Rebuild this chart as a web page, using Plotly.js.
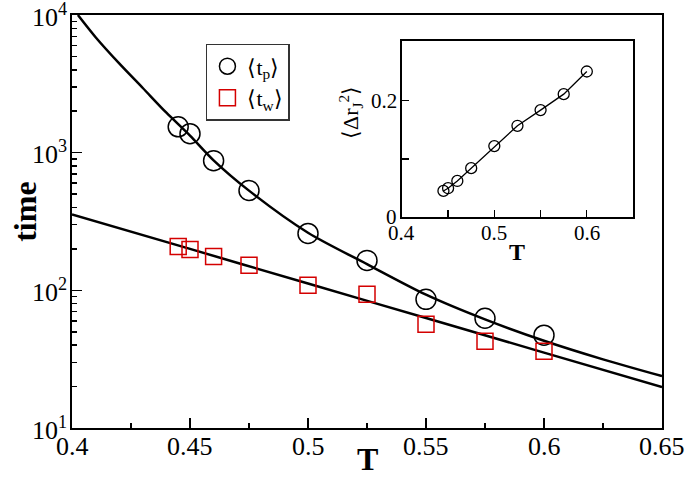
<!DOCTYPE html>
<html>
<head>
<meta charset="utf-8">
<script src="https://cdn.plot.ly/plotly-3.0.1.min.js"></script>
<style>html,body{margin:0;padding:0;background:#fff;}</style>
</head>
<body>
<div id="chart" style="width:685px;height:482px;"></div>
<script>
// Data
const T = [0.445, 0.45, 0.46, 0.475, 0.5, 0.525, 0.55, 0.575, 0.6];
const tp = [1541, 1374, 875, 531, 259, 165, 86, 62.7, 47.2];
const tw = [208, 198, 176, 152, 109, 93.5, 56.7, 42.7, 36.1];

// fitted curves as drawn in the picture (sampled along the drawn lines)
const fitT_p = [0.4025, 0.41, 0.42, 0.43, 0.44, 0.45, 0.46, 0.475, 0.5, 0.525, 0.55, 0.575, 0.6, 0.625, 0.65];
const fitV_p = [10000, 6900, 4450, 2950, 1950, 1330, 880, 530, 262, 155, 93, 61.5, 43, 31.5, 23.8];
const fitT_w = [0.4, 0.45, 0.5, 0.55, 0.6, 0.65];
const fitV_w = [356, 200, 112, 63, 35.3, 19.8];

// inset data
const insetT = [0.445, 0.45, 0.46, 0.475, 0.5, 0.525, 0.55, 0.575, 0.6];
const insetR = [0.0448, 0.0495, 0.062, 0.084, 0.122, 0.157, 0.184, 0.2115, 0.2505];

// tick labels
const xTicks = [0.4, 0.45, 0.5, 0.55, 0.6, 0.65];
const xTickText = ['0.4', '0.45', '0.5', '0.55', '0.6', '0.65'];
const yTicks = [10, 100, 1000, 10000];
const yTickText = ['10<sup>1</sup>', '10<sup>2</sup>', '10<sup>3</sup>', '10<sup>4</sup>'];
const yMinor = [20,30,40,50,60,70,80,90,200,300,400,500,600,700,800,900,2000,3000,4000,5000,6000,7000,8000,9000];
const xMinor = [0.425, 0.475, 0.525, 0.575, 0.625];
const inXTicks = [0.4, 0.5, 0.6];
const inXText = ['0.4', '0.5', '0.6'];
const inXMinor = [0.45, 0.55];
const inYTicks = [0, 0.2];
const inYText = ['0', '0.2'];
const inYMinor = [0.1];

const serif = 'Liberation Serif';

const traces = [
  {x: fitT_p, y: fitV_p, mode: 'lines', line: {color: '#000', width: 2.5, shape: 'spline', smoothing: 0.8}, showlegend: false, hoverinfo: 'skip'},
  {x: fitT_w, y: fitV_w, mode: 'lines', line: {color: '#000', width: 2.5, shape: 'spline'}, showlegend: false, hoverinfo: 'skip'},
  {x: T, y: tp, mode: 'markers', name: '⟨t<sub>p</sub>⟩',
   marker: {symbol: 'circle-open', size: 20, color: '#000', line: {width: 1.5, color: '#000'}}},
  {x: T, y: tw, mode: 'markers', name: '⟨t<sub>w</sub>⟩',
   marker: {symbol: 'square-open', size: 16, color: '#d40000', line: {width: 1.5, color: '#d40000'}}},
  {x: insetT, y: insetR, xaxis: 'x2', yaxis: 'y2', mode: 'lines+markers', showlegend: false,
   line: {color: '#000', width: 1.3},
   marker: {symbol: 'circle-open', size: 11, color: '#000', line: {width: 1.3, color: '#000'}}}
];

const axCommon = {
  showgrid: false, zeroline: false, automargin: false, showticklabels: false,
  showline: true, linecolor: '#000', mirror: true, tickcolor: '#000', ticks: 'inside'
};

// tick labels drawn as text placed on the library's axes
const annotations = [];
xTicks.forEach((v, i) => annotations.push({xref: 'x', yref: 'y domain', x: v, y: 0, yshift: -2,
  xanchor: 'center', yanchor: 'top', text: xTickText[i], showarrow: false, font: {family: serif, size: 26, color: '#000'}}));
yTicks.forEach((v, i) => annotations.push({xref: 'x domain', yref: 'y', x: 0, y: Math.log10(v), xshift: -3,
  xanchor: 'right', yanchor: 'middle', text: yTickText[i], showarrow: false, font: {family: serif, size: 26, color: '#000'}}));
inXTicks.forEach((v, i) => annotations.push({xref: 'x2', yref: 'y2 domain', x: v, y: 0, yshift: -2,
  xanchor: 'center', yanchor: 'top', text: inXText[i], showarrow: false, font: {family: serif, size: 21, color: '#000'}}));
inYTicks.forEach((v, i) => annotations.push({xref: 'x2 domain', yref: 'y2', x: 0, y: v, xshift: -3,
  xanchor: 'right', yanchor: 'middle', text: inYText[i], showarrow: false, font: {family: serif, size: 21, color: '#000'}}));
// axis titles
annotations.push({xref: 'paper', yref: 'paper', x: 0.5, y: -0.075, xanchor: 'center', yanchor: 'middle',
  text: '<b>T</b>', showarrow: false, font: {family: serif, size: 32, color: '#000'}});
annotations.push({xref: 'paper', yref: 'paper', x: -0.08, y: 0.523, xanchor: 'center', yanchor: 'middle', textangle: -90,
  text: '<b>time</b>', showarrow: false, font: {family: serif, size: 32, color: '#000'}});
annotations.push({xref: 'x2 domain', yref: 'paper', x: 0.5, y: 0.426, xanchor: 'center', yanchor: 'middle',
  text: '<b>T</b>', showarrow: false, font: {family: serif, size: 24, color: '#000'}});
annotations.push({xref: 'paper', yref: 'paper', x: 0.471, y: 0.765, xanchor: 'center', yanchor: 'middle', textangle: -90,
  text: '⟨Δr<sub>J</sub><sup>2</sup>⟩', showarrow: false, font: {family: serif, size: 22, color: '#000'}});

const layout = {
  width: 685, height: 482,
  margin: {l: 72, r: 23, t: 15, b: 54},
  paper_bgcolor: '#fff', plot_bgcolor: '#fff',
  font: {family: serif, color: '#000', size: 22},
  showlegend: true,
  legend: {x: 0.227, y: 0.93, xanchor: 'left', yanchor: 'top',
           bordercolor: '#333', borderwidth: 1.5, bgcolor: '#fff',
           font: {family: serif, size: 22, color: '#000'}, itemwidth: 30, tracegroupgap: 6},
  annotations: annotations,
  xaxis: Object.assign({}, axCommon, {
    domain: [0, 1], range: [0.4, 0.65], linewidth: 2,
    tickmode: 'array', tickvals: xTicks, ticklen: 10, tickwidth: 1.5,
    minor: {tickvals: xMinor, ticks: 'inside', ticklen: 5, tickwidth: 1.5, tickcolor: '#000'}
  }),
  yaxis: Object.assign({}, axCommon, {
    domain: [0, 1], type: 'log', range: [1, 4], linewidth: 2,
    tickmode: 'array', tickvals: yTicks, ticklen: 10, tickwidth: 1.5,
    minor: {tickvals: yMinor, ticks: 'inside', ticklen: 5, tickwidth: 1.5, tickcolor: '#000'}
  }),
  xaxis2: Object.assign({}, axCommon, {
    domain: [0.559, 0.951], anchor: 'y2', range: [0.4, 0.65], linewidth: 1.8,
    tickmode: 'array', tickvals: inXTicks, ticklen: 7, tickwidth: 1.3,
    minor: {tickvals: inXMinor, ticks: 'inside', ticklen: 7, tickwidth: 1.3, tickcolor: '#000'}
  }),
  yaxis2: Object.assign({}, axCommon, {
    domain: [0.511, 0.937], anchor: 'x2', range: [0, 0.303], linewidth: 1.8,
    tickmode: 'array', tickvals: inYTicks, ticklen: 7, tickwidth: 1.3,
    minor: {tickvals: inYMinor, ticks: 'inside', ticklen: 7, tickwidth: 1.3, tickcolor: '#000'}
  })
};

Plotly.newPlot('chart', traces, layout, {displayModeBar: false, staticPlot: true});
</script>
</body>
</html>
